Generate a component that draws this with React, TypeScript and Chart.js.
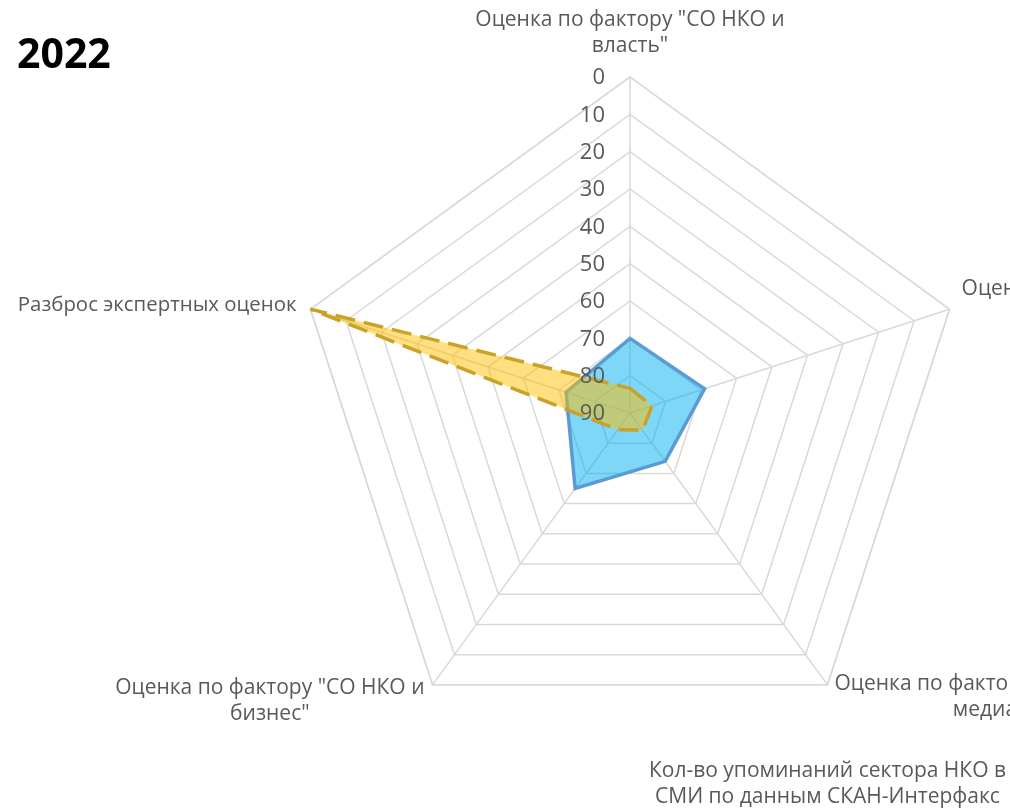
import React, { useEffect, useRef } from 'react';
import { Chart, registerables } from 'chart.js';

Chart.register(...registerables);

const chartTitle = '2022';

const categories: string[][] = [
  ['Оценка по фактору "СО НКО и', 'власть"'],
  ['Оценка по фактору "СО НКО и', 'население"'],
  ['Оценка по фактору "СО НКО и', 'медиа"'],
  ['Оценка по фактору "СО НКО и', 'бизнес"'],
  ['Разброс экспертных оценок'],
];

const extraLabel: string[] = ['Кол-во упоминаний сектора НКО в', 'СМИ по данным СКАН-Интерфакс'];

const seriesBlue: number[] = [70, 69, 74, 65, 72];
const seriesYellow: number[] = [83.4, 83.8, 84.3, 84.5, 0];

const tickValues: number[] = [0, 10, 20, 30, 40, 50, 60, 70, 80, 90];
const AXIS_MIN = 0;
const AXIS_MAX = 90;

const GRID = '#d9d9d9';
const TEXT = '#595959';
const FONT = '"Open Sans", "Noto Sans", sans-serif';

// placement of each category label relative to its outer vertex
// side: 'c' centered, 'l' block to the right of vertex, 'r' block to the left of vertex
const labelPlace = [
  { side: 'c', gap: 0, base: -51, size: 21 },
  { side: 'l', gap: 12, base: -14, size: 21 },
  { side: 'l', gap: 7, base: 5, size: 21 },
  { side: 'r', gap: 8, base: 9, size: 21 },
  { side: 'r', gap: 14, base: 2, size: 20.4 },
];

const overlayPlugin = {
  id: 'overlay',
  beforeDatasetsDraw(chart: any) {
    const s = chart.scales.r;
    const ctx = chart.ctx;
    const d = s.getDistanceFromCenterForValue(AXIS_MIN);
    ctx.save();
    ctx.strokeStyle = GRID;
    ctx.lineWidth = 1.5;
    ctx.beginPath();
    for (let i = 0; i < categories.length; i++) {
      const p = s.getPointPosition(i, d);
      if (i === 0) ctx.moveTo(p.x, p.y);
      else ctx.lineTo(p.x, p.y);
    }
    ctx.closePath();
    ctx.stroke();
    ctx.restore();
  },
  afterDatasetsDraw(chart: any) {
    const s = chart.scales.r;
    const ctx = chart.ctx;
    ctx.save();
    ctx.fillStyle = TEXT;
    ctx.font = `22px ${FONT}`;
    ctx.textAlign = 'right';
    ctx.textBaseline = 'middle';
    tickValues.forEach((v) => {
      const y = s.yCenter - s.getDistanceFromCenterForValue(v);
      ctx.fillText(String(v), s.xCenter - 25, y + 1);
    });
    ctx.restore();
  },
  afterDraw(chart: any) {
    const s = chart.scales.r;
    const ctx = chart.ctx;
    const d = s.getDistanceFromCenterForValue(AXIS_MIN);
    const lh = 26;
    ctx.save();
    ctx.fillStyle = TEXT;
    ctx.textBaseline = 'alphabetic';
    ctx.textAlign = 'center';
    categories.forEach((lines, i) => {
      const p = s.getPointPosition(i, d);
      const pl = labelPlace[i];
      ctx.font = `${pl.size}px ${FONT}`;
      const w = Math.max(...lines.map((t) => ctx.measureText(t).width));
      let cx = p.x;
      if (pl.side === 'l') cx = p.x + pl.gap + w / 2;
      if (pl.side === 'r') cx = p.x - pl.gap - w / 2;
      lines.forEach((t, k) => {
        ctx.fillText(t, cx, p.y + pl.base + k * lh);
      });
    });
    // extra label under the bottom-right vertex
    ctx.font = `21px ${FONT}`;
    const pb = s.getPointPosition(2, d);
    extraLabel.forEach((t, k) => {
      ctx.fillText(t, pb.x, pb.y + 92 + k * lh);
    });
    // title
    ctx.fillStyle = '#000000';
    ctx.font = `bold 41px ${FONT}`;
    ctx.textAlign = 'left';
    ctx.fillText(chartTitle, 17, 68);
    ctx.restore();
  },
};

export default function App() {
  const ref = useRef<HTMLCanvasElement>(null);
  useEffect(() => {
    const chart = new Chart(ref.current as HTMLCanvasElement, {
      type: 'radar',
      data: {
        labels: categories,
        datasets: [
          {
            label: 'Ряд 1',
            data: seriesBlue,
            borderColor: '#5b9bd5',
            backgroundColor: 'rgba(0,176,240,0.5)',
            borderWidth: 3.5,
            fill: 'start',
            pointRadius: 0,
            order: 2,
          },
          {
            label: 'Ряд 2',
            data: seriesYellow,
            borderColor: '#c9a227',
            backgroundColor: 'rgba(255,192,0,0.5)',
            borderWidth: 3.5,
            borderDash: [20, 9],
            fill: 'start',
            pointRadius: 0,
            order: 1,
          },
        ],
      },
      options: {
        animation: false,
        responsive: false,
        maintainAspectRatio: false,
        layout: { padding: { left: 294, right: 334, top: 77, bottom: 59 } },
        plugins: { legend: { display: false }, tooltip: { enabled: false } },
        scales: {
          r: {
            min: AXIS_MIN,
            max: AXIS_MAX,
            reverse: true,
            ticks: { display: false, stepSize: 10 },
            pointLabels: { display: false },
            grid: { color: GRID, lineWidth: 1.5 },
            angleLines: { color: GRID, lineWidth: 1.5 },
          },
        },
      },
      plugins: [overlayPlugin],
    });
    return () => chart.destroy();
  }, []);
  return (
    <div
      style={{
        position: 'fixed',
        left: 0,
        top: 0,
        width: 1010,
        height: 808,
        overflow: 'hidden',
        background: '#ffffff',
      }}
    >
      <canvas ref={ref} width={1300} height={808} style={{ display: 'block', width: 1300, height: 808 }} />
    </div>
  );
}
